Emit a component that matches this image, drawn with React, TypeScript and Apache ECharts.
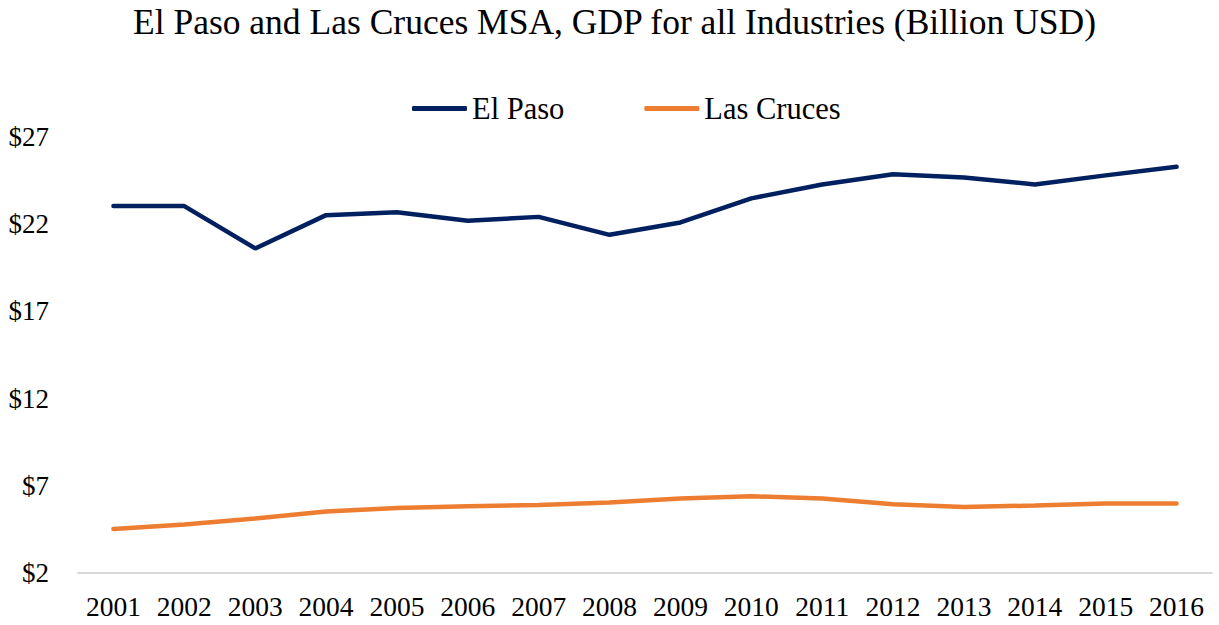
import React, { useEffect, useRef } from "react";
import * as echarts from "echarts";

const years = ["2001","2002","2003","2004","2005","2006","2007","2008","2009","2010","2011","2012","2013","2014","2015","2016"];
const elPaso = [23.04, 23.04, 20.61, 22.52, 22.68, 22.2, 22.42, 21.39, 22.1, 23.48, 24.28, 24.86, 24.68, 24.28, 24.8, 25.29];
const lasCruces = [4.52, 4.78, 5.12, 5.52, 5.73, 5.83, 5.9, 6.04, 6.27, 6.4, 6.27, 5.94, 5.79, 5.87, 5.98, 5.98];
const titleText = "El Paso and Las Cruces MSA, GDP for all Industries (Billion USD)";

const FONT = "'Liberation Serif', 'DejaVu Serif', serif";

export default function App() {
  const ref = useRef<HTMLDivElement>(null);
  useEffect(() => {
    if (!ref.current) return;
    const chart = echarts.init(ref.current, null, { renderer: "svg" });
    chart.setOption({
      animation: false,
      backgroundColor: "#ffffff",
      title: {
        text: titleText,
        left: 128,
        top: -1,
        textStyle: { fontFamily: FONT, fontSize: 35.5, fontWeight: "normal", color: "#000" },
      },
      legend: {
        top: 88,
        left: 407,
        icon: "roundRect",
        itemWidth: 55,
        itemHeight: 5,
        itemGap: 80,
        textStyle: { fontFamily: FONT, fontSize: 30.5, color: "#000" },
        data: ["El Paso", "Las Cruces"],
      },
      grid: { left: 78, right: 7, top: 137, bottom: 52, containLabel: false },
      xAxis: {
        type: "category",
        data: years,
        boundaryGap: true,
        axisLine: { lineStyle: { color: "#d9d9d9", width: 2 } },
        axisTick: { show: false },
        axisLabel: { fontFamily: FONT, fontSize: 27.5, color: "#000", margin: 19, interval: 0 },
      },
      yAxis: {
        type: "value",
        min: 2,
        max: 27,
        interval: 5,
        splitLine: { show: false },
        axisLine: { show: false },
        axisTick: { show: false },
        axisLabel: { fontFamily: FONT, fontSize: 27, color: "#000", margin: 29, formatter: (v: number) => "$" + v },
      },
      series: [
        {
          name: "El Paso",
          type: "line",
          data: elPaso,
          symbol: "none",
          lineStyle: { color: "#002060", width: 4.5, cap: "round" },
          itemStyle: { color: "#002060" },
        },
        {
          name: "Las Cruces",
          type: "line",
          data: lasCruces,
          symbol: "none",
          lineStyle: { color: "#ED7D31", width: 4.5, cap: "round" },
          itemStyle: { color: "#ED7D31" },
        },
      ],
    });
    return () => chart.dispose();
  }, []);
  return <div ref={ref} style={{ width: 1219, height: 625, position: "absolute", left: 0, top: 0 }} />;
}
